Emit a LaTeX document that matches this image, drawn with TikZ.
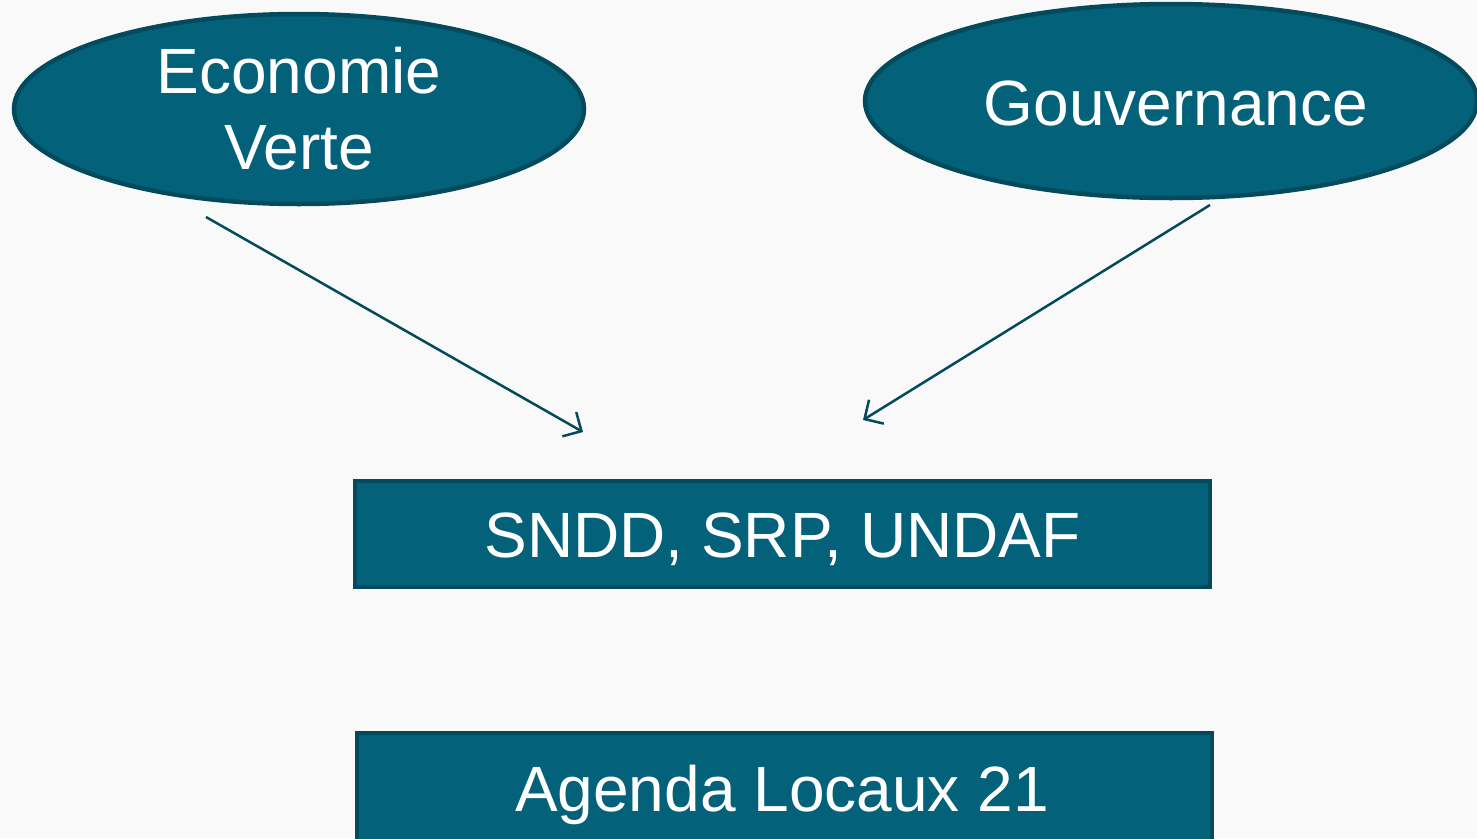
\documentclass[tikz,border=0pt]{standalone}
\usepackage{fontspec}
\setmainfont{Liberation Sans}
\usetikzlibrary{shapes.geometric,arrows.meta}
\definecolor{tealfill}{HTML}{03627A}
\definecolor{tealedge}{HTML}{024A5C}
\definecolor{bgcol}{HTML}{F9F9F9}
\tikzset{
  oval/.style={ellipse, fill=tealfill, draw=tealedge, line width=4.5pt, inner sep=0pt, text=white, align=center, font=\fontsize{64}{76}\selectfont},
  boxnode/.style={rectangle, fill=tealfill, draw=tealedge, line width=4pt, inner sep=0pt, text=white, font=\fontsize{64}{76}\selectfont},
  label text/.style={text=white, font=\fontsize{64}{76}\selectfont, anchor=base, inner sep=0pt},
  link/.style={draw=tealedge, line width=2.5pt, -{Straight Barb[length=14pt,width=28pt,line width=2.5pt]}}
}
\begin{document}
\begin{tikzpicture}[x=1pt,y=-1pt]
\fill[bgcol] (0,0) rectangle (1477,838);
\useasboundingbox (0,0) rectangle (1477,838);
\node[oval, minimum width=570pt, minimum height=190pt] (eco) at (299,109) {Economie\\Verte};
\node[oval, minimum width=612pt, minimum height=194pt] (gov) at (1171,101) {};
\node[label text] (govtxt) at (1176,125) {Gouvernance};
\node[boxnode, minimum width=855pt, minimum height=106pt] (sndd) at (782.5,534) {};
\node[label text] (snddtxt) at (782.5,557) {SNDD, SRP, UNDAF};
\node[boxnode, minimum width=855pt, minimum height=130pt] (agenda) at (784,798) {};
\node[label text] (agendatxt) at (782,811) {Agenda Locaux 21};
\coordinate (a1s) at (206,217);
\coordinate (a1e) at (583,432);
\coordinate (a2s) at (1210,205);
\coordinate (a2e) at (863,420);
\draw[link] (a1s) -- (a1e);
\draw[link] (a2s) -- (a2e);
\end{tikzpicture}
\end{document}
